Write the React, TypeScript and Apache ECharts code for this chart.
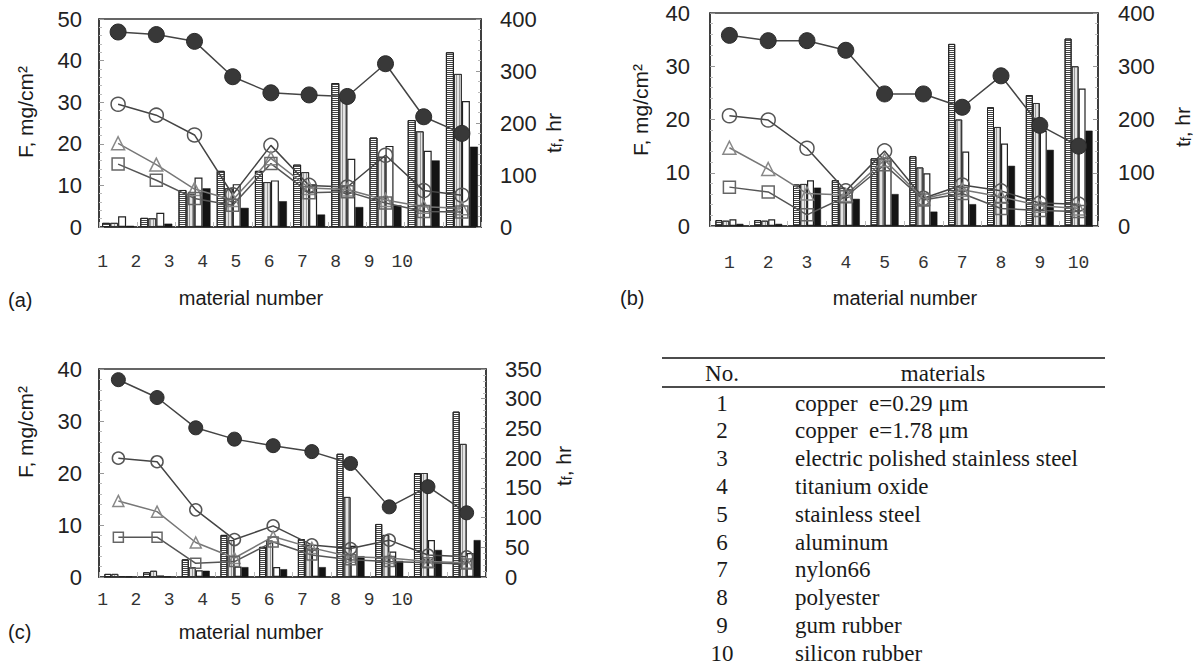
import React, { useEffect, useRef } from "react";
import * as echarts from "echarts";

const categories = ["1", "2", "3", "4", "5", "6", "7", "8", "9", "10"];

// ---- panel (a): F, mg/cm2 (bars) ----
const aBar1 = [1.0, 2.2, 8.9, 13.5, 13.5, 15.0, 34.6, 21.5, 25.7, 42.0];
const aBar2 = [1.0, 2.1, 8.0, 9.3, 10.8, 13.2, 30.5, 16.9, 23.0, 36.8];
const aBar3 = [2.6, 3.4, 11.9, 10.3, 11.2, 10.3, 16.4, 19.5, 18.3, 30.3];
const aBar4 = [0.3, 0.8, 9.3, 4.6, 6.2, 3.0, 4.8, 5.2, 16.0, 19.3];
// ---- panel (a): tf, hr (lines) ----
const aFilled = [375, 370, 357, 289, 258, 254, 251, 314, 212, 180];
const aOpen = [236, 215, 177, 62, 157, 80, 77, 138, 70, 61];
const aTri = [161, 120, 73, 52, 132, 75, 72, 52, 39, 36];
const aSq = [121, 90, 55, 42, 122, 66, 68, 46, 30, 29];

// ---- panel (b) ----
const bBar1 = [1.1, 1.1, 7.8, 8.6, 12.7, 13.1, 34.2, 22.3, 24.6, 35.2];
const bBar2 = [1.0, 1.0, 7.9, 7.2, 12.7, 11.0, 20.0, 18.6, 23.1, 30.0];
const bBar3 = [1.25, 1.25, 8.6, 6.9, 12.3, 9.9, 14.0, 15.5, 17.9, 25.8];
const bBar4 = [0.4, 0.4, 7.2, 5.1, 6.0, 2.7, 4.1, 11.3, 14.3, 17.9];
const bFilled = [358, 348, 348, 330, 248, 248, 223, 282, 189, 150];
const bOpen = [207, 199, 146, 66, 141, 52, 77, 66, 43, 41];
const bTri = [147, 107, 61, 58, 124, 51, 68, 55, 38, 33];
const bSq = [73, 64, 21, 55, 115, 49, 61, 33, 29, 27];

// ---- panel (c) ----
const cBar1 = [0.6, 0.9, 3.4, 8.1, 5.8, 7.3, 23.7, 10.2, 20.0, 31.8];
const cBar2 = [0.6, 1.2, 1.9, 7.1, 7.0, 6.2, 15.4, 8.1, 20.0, 25.6];
const cBar3 = [0.2, 0.3, 1.3, 2.0, 1.9, 5.6, 6.0, 4.9, 7.1, 4.6];
const cBar4 = [0.1, 0.1, 1.2, 1.9, 1.5, 1.9, 4.0, 3.1, 5.2, 7.1];
const cFilled = [332, 302, 251, 232, 221, 211, 191, 118, 152, 108];
const cOpen = [200, 194, 113, 63, 86, 54, 48, 62, 37, 34];
const cTri = [128, 110, 58, 32, 68, 49, 34, 32, 26, 24];
const cSq = [67, 67, 23, 26, 59, 37, 29, 26, 24, 22];

// ---- table ----
const tableNumbers = ["1", "2", "3", "4", "5", "6", "7", "8", "9", "10"];
const tableMaterials = [
  "copper  e=0.29 μm",
  "copper  e=1.78 μm",
  "electric polished stainless steel",
  "titanium oxide",
  "stainless steel",
  "aluminum",
  "nylon66",
  "polyester",
  "gum rubber",
  "silicon rubber",
];

const SANS = "Liberation Sans";
const SERIF = "Liberation Serif";
const MONO = "Liberation Mono";

const axisText = { fontFamily: SANS, fontSize: 22, color: "#222" };

function valueAxis(gridIndex: number, position: string, max: number, interval: number, margin: number) {
  return {
    type: "value",
    gridIndex,
    position,
    min: 0,
    max,
    interval,
    axisLine: { show: true, lineStyle: { color: "#333", width: 1.5 } },
    axisTick: { show: true, inside: true, length: 5, lineStyle: { color: "#999" } },
    minorTick: { show: true, splitNumber: 5, length: 3, lineStyle: { color: "#bbb" } },
    splitLine: { show: false },
    axisLabel: { ...axisText, margin },
  };
}

function catAxis(gridIndex: number, showLabel: boolean, margin = 10) {
  return {
    type: "category",
    gridIndex,
    data: categories,
    boundaryGap: true,
    axisLine: { show: true, lineStyle: { color: "#333", width: 1.5 } },
    axisTick: { show: true, inside: true, length: 5, interval: 0, lineStyle: { color: "#bbb" } },
    axisLabel: { show: showLabel, fontFamily: MONO, fontSize: 18, color: "#333", margin },
  };
}

function labelAxis(gridIndex: number, margin: number) {
  return {
    type: "category",
    gridIndex,
    data: categories,
    axisLine: { show: false },
    axisTick: { show: false },
    axisLabel: { show: true, fontFamily: MONO, fontSize: 18, color: "#333", margin },
  };
}

const hStripe = {
  color: "#fff",
  borderColor: "#222",
  borderWidth: 1,
  decal: { symbol: "rect", symbolSize: 1, dashArrayX: [1, 0], dashArrayY: [1, 1], color: "#444" },
};
const vStripe = {
  color: "#e4e4e4",
  borderColor: "#333",
  borderWidth: 1,
  decal: { symbol: "rect", symbolSize: 1, dashArrayX: [1, 1.5], dashArrayY: [1, 0], color: "#999" },
};
const whiteBar = { color: "#fff", borderColor: "#222", borderWidth: 1.2 };
const blackBar = { color: "#141414", borderColor: "#141414", borderWidth: 0.5 };

function bars(xi: number, yi: number, width: number, data: number[][]) {
  const styles = [hStripe, vStripe, whiteBar, blackBar];
  return data.map((d, i) => ({
    type: "bar",
    xAxisIndex: xi,
    yAxisIndex: yi,
    data: d,
    barWidth: width,
    barGap: "0%",
    itemStyle: styles[i],
    z: 2,
  }));
}

function lines(xi: number, yi: number, s: number, data: number[][]) {
  const kinds = [
    { symbol: "circle", size: s + 2, item: { color: "#383838", borderColor: "#2a2a2a", borderWidth: 1 }, line: "#444" },
    { symbol: "circle", size: s, item: { color: "rgba(255,255,255,0)", borderColor: "#555", borderWidth: 1.5 }, line: "#444" },
    { symbol: "triangle", size: s - 1, item: { color: "rgba(255,255,255,0)", borderColor: "#888", borderWidth: 1.5 }, line: "#777" },
    { symbol: "rect", size: s - 2, item: { color: "rgba(255,255,255,0)", borderColor: "#666", borderWidth: 1.5 }, line: "#555" },
  ];
  return data.map((d, i) => ({
    type: "line",
    xAxisIndex: xi,
    yAxisIndex: yi,
    data: d,
    symbol: kinds[i].symbol,
    symbolSize: kinds[i].size,
    itemStyle: kinds[i].item,
    lineStyle: { color: kinds[i].line, width: 1.5 },
    z: 5,
  }));
}

function text(x: number, y: number, t: string, opts: any = {}) {
  return {
    type: "text",
    x,
    y,
    rotation: opts.rotation || 0,
    style: {
      text: t,
      fontFamily: opts.font || SANS,
      fontSize: opts.size || 20,
      fill: "#1a1a1a",
      textAlign: opts.align || "center",
      textVerticalAlign: "middle",
      rich: opts.rich,
    },
  };
}

export default function App() {
  const ref = useRef<HTMLDivElement>(null);

  useEffect(() => {
    if (!ref.current) return;
    const chart = echarts.init(ref.current, null, { renderer: "svg" });

    const gridStyle = { show: true, borderColor: "#333", borderWidth: 1.5, backgroundColor: "transparent" };
    const rich = { s: { fontFamily: SANS, fontSize: 14, padding: [8, 0, 0, 0] } };

    const graphics: any[] = [
      text(25, 112, "F, mg/cm²", { rotation: Math.PI / 2, size: 21 }),
      text(553, 133, "t{s|f}, hr", { rotation: Math.PI / 2, size: 21, rich }),
      text(640, 110, "F, mg/cm²", { rotation: Math.PI / 2, size: 21 }),
      text(1182, 127, "t{s|f}, hr", { rotation: Math.PI / 2, size: 21, rich }),
      text(25, 432, "F, mg/cm²", { rotation: Math.PI / 2, size: 21 }),
      text(563, 466, "t{s|f}, hr", { rotation: Math.PI / 2, size: 21, rich }),
      text(251, 298, "material number"),
      text(905, 298, "material number"),
      text(251, 632, "material number"),
      text(8, 300, "(a)", { align: "left" }),
      text(620, 298, "(b)", { align: "left" }),
      text(8, 632, "(c)", { align: "left" }),
      { type: "line", shape: { x1: 662, y1: 358, x2: 1105, y2: 358 }, style: { stroke: "#111", lineWidth: 1.5 } },
      { type: "line", shape: { x1: 662, y1: 387, x2: 1105, y2: 387 }, style: { stroke: "#111", lineWidth: 1.5 } },
      text(722, 373, "No.", { font: SERIF, size: 23 }),
      text(943, 373, "materials", { font: SERIF, size: 23 }),
    ];
    tableNumbers.forEach((n, i) => {
      const y = 403 + i * 27.8;
      graphics.push(text(722, y, n, { font: SERIF, size: 23 }));
      graphics.push(text(795, y, tableMaterials[i], { font: SERIF, align: "left", size: 23 }));
    });

    chart.setOption({
      animation: false,
      backgroundColor: "#fff",
      grid: [
        { left: 99, top: 19, width: 382, height: 208, ...gridStyle },
        { left: 710, top: 13, width: 388, height: 213, ...gridStyle },
        { left: 99, top: 369, width: 387, height: 208, ...gridStyle },
        { left: 86, top: 226, width: 333, height: 1, show: false },
        { left: 86, top: 576, width: 333, height: 1, show: false },
      ],
      xAxis: [
        catAxis(0, false),
        catAxis(1, true, 28),
        catAxis(2, false),
        labelAxis(3, 26),
        labelAxis(4, 14),
      ],
      yAxis: [
        valueAxis(0, "left", 50, 10, 17),
        valueAxis(0, "right", 400, 100, 19),
        valueAxis(1, "left", 40, 10, 20),
        valueAxis(1, "right", 400, 100, 20),
        valueAxis(2, "left", 40, 10, 17),
        valueAxis(2, "right", 350, 50, 19),
        { type: "value", gridIndex: 3, show: false },
        { type: "value", gridIndex: 4, show: false },
      ],
      series: [
        ...bars(0, 0, 8, [aBar1, aBar2, aBar3, aBar4]),
        ...lines(0, 1, 14, [aFilled, aOpen, aTri, aSq]),
        ...bars(1, 2, 7, [bBar1, bBar2, bBar3, bBar4]),
        ...lines(1, 3, 14, [bFilled, bOpen, bTri, bSq]),
        ...bars(2, 4, 7, [cBar1, cBar2, cBar3, cBar4]),
        ...lines(2, 5, 12, [cFilled, cOpen, cTri, cSq]),
      ],
      graphic: graphics,
    });

    return () => chart.dispose();
  }, []);

  return (
    <div
      ref={ref}
      style={{ position: "fixed", left: 0, top: 0, width: 1195, height: 665, background: "#fff" }}
    />
  );
}
